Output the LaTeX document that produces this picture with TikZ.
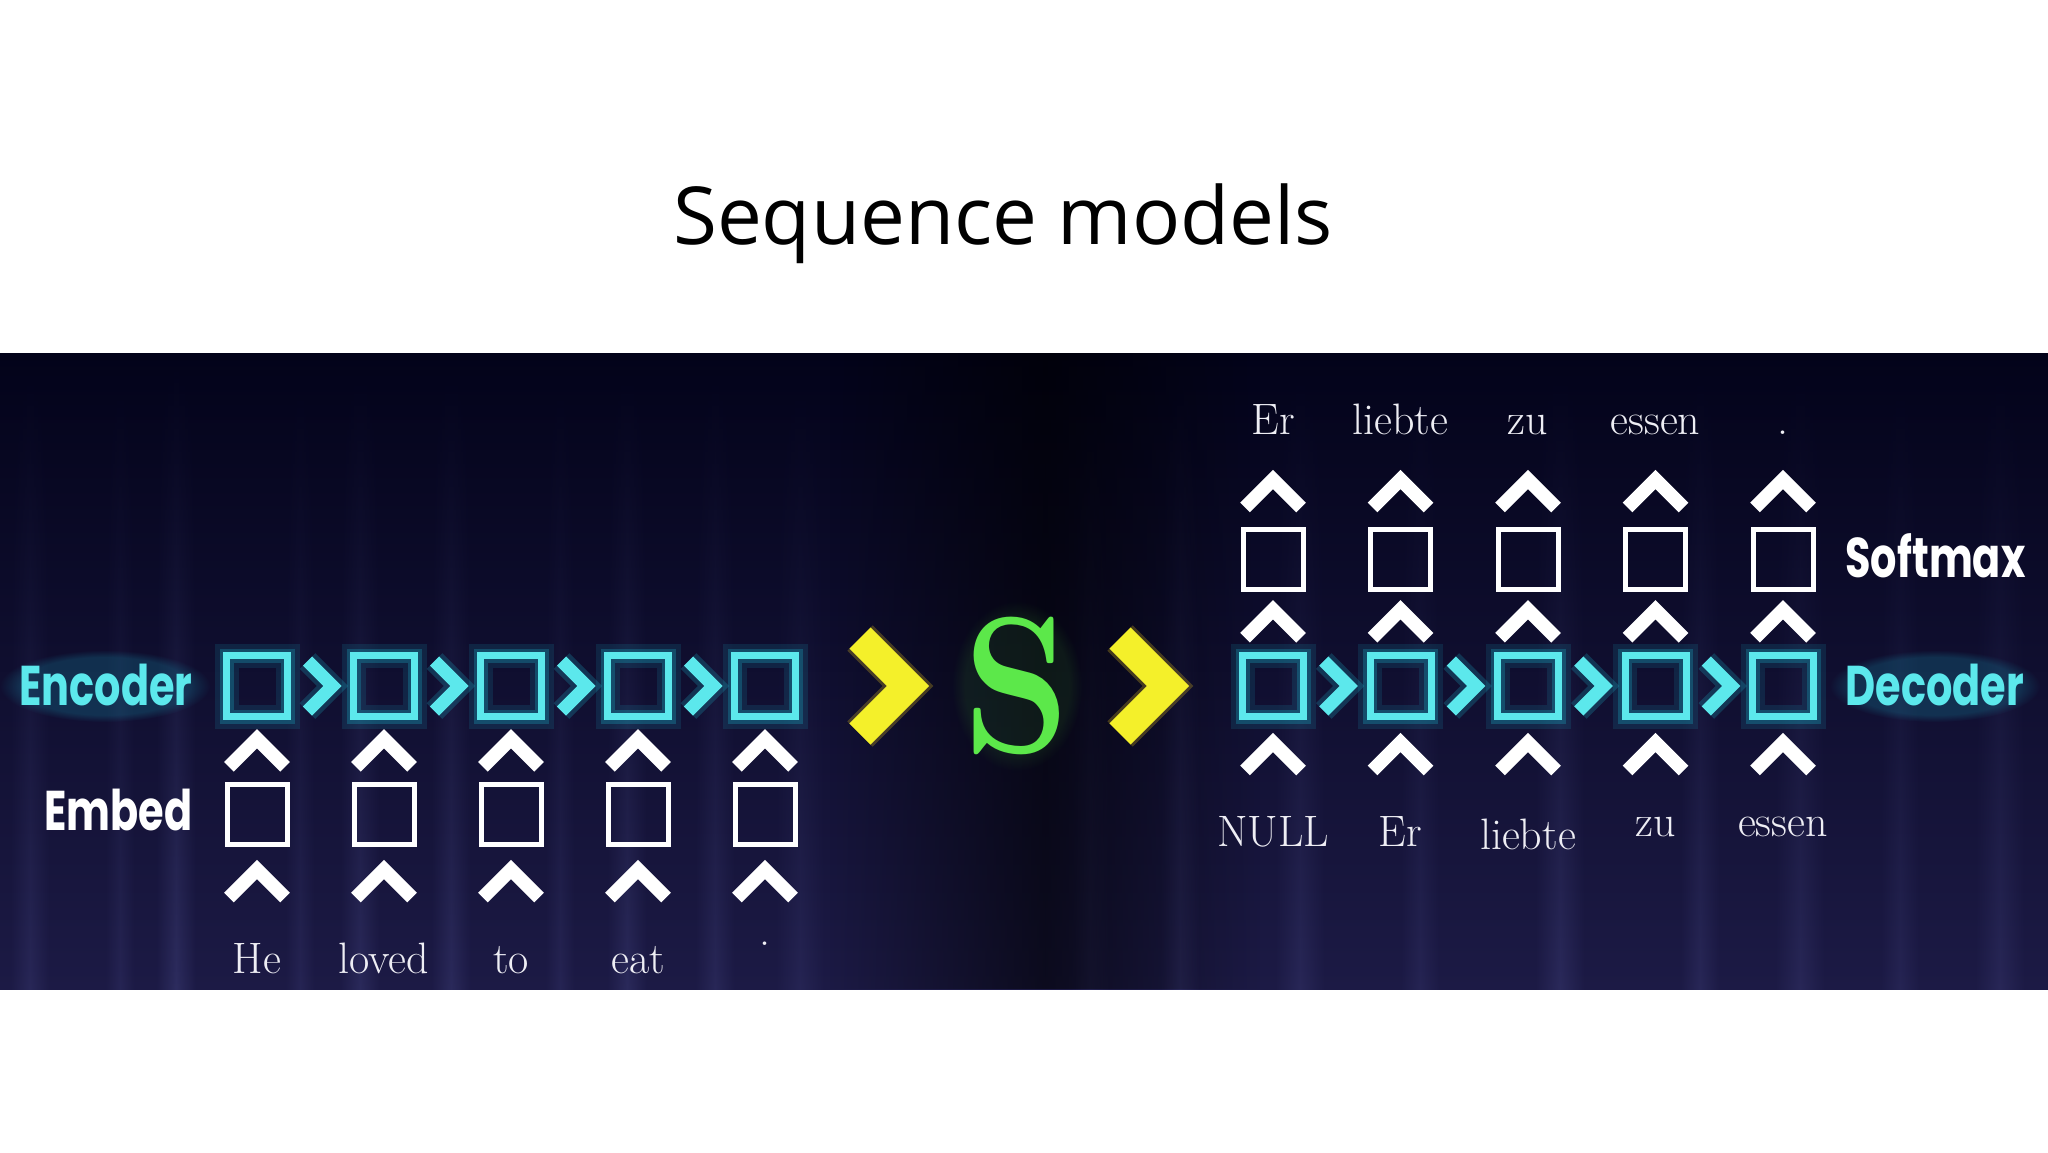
\documentclass[tikz,border=0pt]{standalone}
\usepackage{fontspec}
\newfontfamily\titlefont{Open Sans}
\newfontfamily\labfont{Poppins}
\usetikzlibrary{calc,fadings}
\definecolor{bgtop}{HTML}{03031A}
\definecolor{bgbot}{HTML}{1C1A45}
\definecolor{streak}{HTML}{3A3A72}
\definecolor{cyanc}{HTML}{5CE8EC}
\definecolor{cyanglow}{HTML}{1AA8C0}
\definecolor{yel}{HTML}{F4F02A}
\definecolor{grn}{HTML}{5CE84A}
\definecolor{wordc}{HTML}{EEEEF4}
\tikzfading[name=stripefade, left color=transparent!100, right color=transparent!100, middle color=transparent!20]
\begin{document}
\begin{tikzpicture}[x=0.5pt,y=-0.5pt,
  encbox/.style={draw=cyanc, line width=3.5pt, minimum size=30.5pt, inner sep=0pt,
     preaction={draw=cyanglow, line width=12pt, draw opacity=0.15},
     preaction={draw=cyanglow, line width=7pt, draw opacity=0.3}},
  wbox/.style={draw=white, line width=2.5pt, minimum size=30pt, inner sep=0pt},
  word/.style={text=wordc, font=\fontsize{22}{22}\selectfont, inner sep=0pt, anchor=base},
  lab/.style={font=\labfont\bfseries\fontsize{28}{28}\selectfont, inner sep=0pt},
  glow/.style={fill opacity=0.22, path fading=circle with fuzzy edge 20 percent},
  rchev/.pic={\draw[cyanglow, line width=11pt, draw opacity=0.25] (-13,-25) -- (12,0) -- (-13,25);
              \draw[cyanc, line width=6.5pt] (-13,-25) -- (12,0) -- (-13,25);},
  uchev/.pic={\draw[white, line width=6.8pt] (-28,16) -- (0,-12) -- (28,16);},
  ychev/.pic={\draw[yel!70!orange, line width=18pt, draw opacity=0.25] (-28,-48) -- (20,0) -- (-28,48);
              \draw[yel, line width=15pt] (-28,-48) -- (20,0) -- (-28,48);}
]
\useasboundingbox (0,0) rectangle (2048,1152);
\fill[white] (0,0) rectangle (2048,1152);
% band
\shade[top color=bgtop, bottom color=bgbot] (0,353) rectangle (2048,989);
\foreach \sx/\sw/\so in {30/40/0.5, 120/30/0.4, 176/40/0.7, 300/30/0.4, 360/40/0.6, 451/40/0.6, 560/30/0.4, 627/40/0.6, 715/40/0.5, 800/50/0.4, 1090/40/0.3, 1180/40/0.5, 1300/50/0.5, 1420/40/0.4, 1560/50/0.6, 1700/40/0.5, 1800/50/0.5, 1900/40/0.4, 2000/50/0.5}
  \shade[top color=bgtop, bottom color=streak, path fading=stripefade, fill opacity=\so] (\sx-\sw/2,353) rectangle (\sx+\sw/2,989);
\fill[black, path fading=stripefade, fill opacity=0.7] (830,353) rectangle (1260,989);
% glows behind labels and S
\fill[cyanglow, glow] (105,686) ellipse (105 and 36);
\fill[cyanglow, glow] (1935,686) ellipse (105 and 36);
\fill[grn!60!black, glow, fill opacity=0.15] (1017,686) ellipse (65 and 85);
% title
\node[font=\titlefont\fontsize{40}{40}\selectfont, anchor=base, inner sep=0pt] (title) at (1003,244) {Sequence models};
% encoder side
\foreach \i/\w in {1/He, 2/loved, 3/to, 4/eat} {
  \node[encbox] (e\i) at ({257+127*(\i-1)},686) {};
  \node[wbox] (m\i) at ({257+127*(\i-1)},814) {};
  \node[word] (w\i) at ({257+127*(\i-1)},973) {\w};
}
\node[encbox] (e5) at (765,686) {};
\node[wbox] (m5) at (765,814) {};
\node[word] (w5) at (765,945) {.};
\foreach \i in {1,...,5} {
  \path ($(m\i.north)!0.5!(e\i.south)$) pic {uchev};
  \path ($(m\i.south)+(0,35)$) pic {uchev};
}
\foreach \i/\j in {1/2, 2/3, 3/4, 4/5}
  \path ($(e\i.east)!0.5!(e\j.west)$) pic {rchev};
% decoder side
\foreach \i/\t/\b/\bb in {1/Er/NULL/846, 2/liebte/Er/846, 3/zu/liebte/849, 4/essen/zu/836, 5/./essen/836} {
  \node[encbox] (d\i) at ({1273+127.5*(\i-1)},686) {};
  \node[wbox] (s\i) at ({1273+127.5*(\i-1)},559) {};
  \node[word] (t\i) at ({1273+127.5*(\i-1)},434) {\t};
  \node[word] (b\i) at ({1273+127.5*(\i-1)},\bb) {\b};
}
\foreach \i in {1,...,5} {
  \path ($(s\i.south)!0.5!(d\i.north)$) pic {uchev};
  \path ($(s\i.north)+(0,-35)$) pic {uchev};
  \path ($(d\i.south)+(0,34.5)$) pic {uchev};
}
\foreach \i/\j in {1/2, 2/3, 3/4, 4/5}
  \path ($(d\i.east)!0.5!(d\j.west)$) pic {rchev};
% middle
\node[text=grn, inner sep=0pt] (S) at (1017,686) {\scalebox{0.88}[1]{\fontsize{97}{97}\selectfont\bfseries S}};
\path ($(S)+(-129,0)$) pic {ychev};
\path ($(S)+(131,0)$) pic {ychev};
% labels
\node[lab, text=cyanc, anchor=base east] (enc) at (193,705) {\scalebox{0.74}[1]{Encoder}};
\node[lab, text=white, anchor=base east] (emb) at (193,830) {\scalebox{0.74}[1]{Embed}};
\node[lab, text=white, anchor=base west] (soft) at (1845,577) {\scalebox{0.74}[1]{Softmax}};
\node[lab, text=cyanc, anchor=base west] (dec) at (1845,705) {\scalebox{0.74}[1]{Decoder}};
\end{tikzpicture}
\end{document}
